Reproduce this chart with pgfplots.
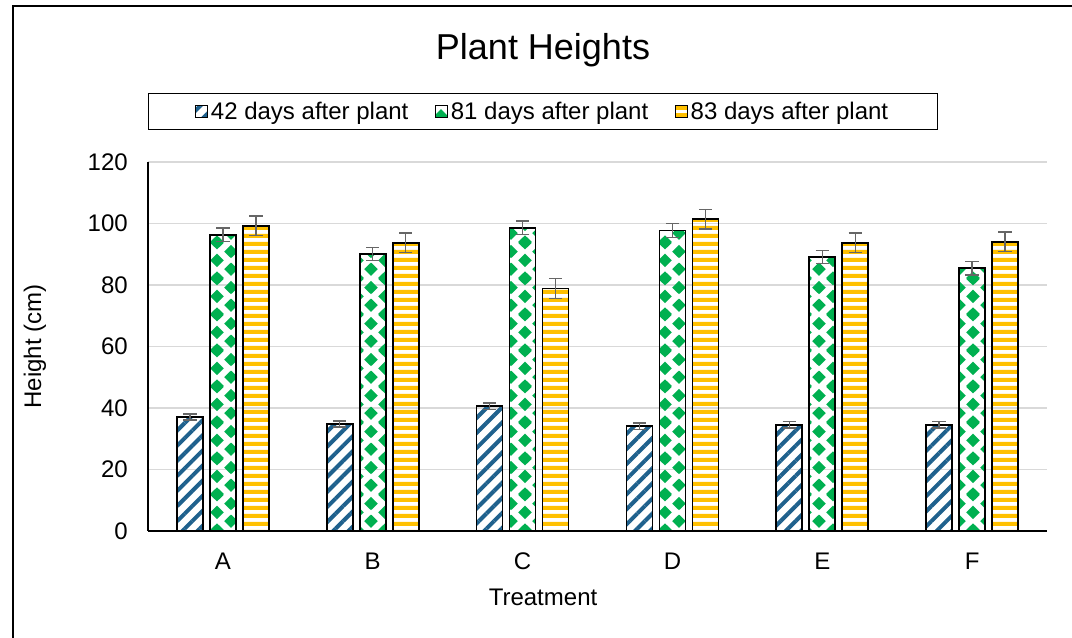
\documentclass[border=0pt]{standalone}
\usepackage{pgfplots}
\pgfplotsset{compat=1.18}
\usepackage{fontspec}
\setmainfont{Liberation Sans}
\usetikzlibrary{patterns.meta}

\definecolor{cblue}{HTML}{1F618D}
\definecolor{cgreen}{HTML}{00B050}
\definecolor{cyellow}{HTML}{FFC000}

\tikzdeclarepattern{
  name=diamonds,
  type=uncolored,
  bounding box={(0pt,0pt) and (840pt,27pt)},
  tile size={(840pt,27pt)},
  code={
    \foreach \i in {0,...,39}{
      \foreach \j in {-1,0,1,2}{
        \fill ({\i*21pt+5.25pt},{\j*13.5pt+1.7pt}) -- ++(5.1pt,5.1pt) -- ++(-5.1pt,5.1pt) -- ++(-5.1pt,-5.1pt) -- cycle;
        \fill ({\i*21pt+15.75pt},{\j*13.5pt+8.45pt}) -- ++(5.1pt,5.1pt) -- ++(-5.1pt,5.1pt) -- ++(-5.1pt,-5.1pt) -- cycle;
      }
    }
  }
}
\tikzdeclarepattern{
  name=hstripes,
  type=uncolored,
  bounding box={(0pt,0pt) and (840pt,6pt)},
  tile size={(840pt,6pt)},
  code={
    \fill (0pt,0pt) rectangle (840pt,3.4pt);
  }
}

\pgfplotstableread{
x  h42  e42  h81  e81  h83  e83
0  37.1 1.0  96.3 2.2  99.2 3.2
1  34.8 1.0  90.1 2.2  93.7 3.2
2  40.6 1.0  98.6 2.2  78.9 3.2
3  34.1 1.0  97.7 2.2  101.4 3.2
4  34.5 1.0  89.1 2.2  93.7 3.2
5  34.5 1.0  85.5 2.2  94.0 3.2
}\datatable

\begin{document}
\begin{tikzpicture}
\useasboundingbox (0pt,0pt) rectangle (804pt,478.5pt);
\draw[line width=1.5pt] (9.75pt,-15pt) -- (9.75pt,474pt) -- (817pt,474pt);
\begin{axis}[
  at={(111pt,80.25pt)}, anchor=south west,
  scale only axis, width=674.25pt, height=276.75pt,
  xmin=-0.5, xmax=5.5, ymin=0, ymax=120,
  xtick=data, xticklabels={A,B,C,D,E,F},
  ytick={0,20,...,120},
  axis x line*=bottom, axis y line*=left,
  axis line style={line width=1pt, black, -},
  major tick length=0pt,
  ymajorgrids, major grid style={line width=1pt, black!15},
  tick label style={font=\fontsize{18pt}{21pt}\selectfont},
  yticklabel style={inner sep=0pt, xshift=-15pt},
  xticklabel style={inner sep=0pt, yshift=-16pt},
  /pgf/number format/assume math mode=true,
  xlabel={Treatment},
  ylabel={Height (cm)},
  every axis x label/.style={at={(rel axis cs:0.4394,-0.1789)}, anchor=center, font=\fontsize{18pt}{21pt}\selectfont},
  every axis y label/.style={at={(rel axis cs:-0.1257,0.5)}, rotate=90, anchor=center, font=\fontsize{18pt}{21pt}\selectfont},
  title={Plant Heights},
  every axis title/.style={at={(rel axis cs:0.4394,1.3035)}, anchor=center, font=\fontsize{27pt}{32pt}\selectfont},
  ybar, bar width=19.5pt,
  legend columns=3,
  legend style={at={(rel axis cs:0.4394,1.1369)}, anchor=center, draw=black, line width=1pt,
    font=\fontsize{18pt}{21pt}\selectfont, inner xsep=35pt, inner ysep=4pt,
    /tikz/every even column/.append style={column sep=18pt}},
  legend image code/.code={\draw[#1, line width=0.8pt] (0pt,-4.5pt) rectangle (9pt,4.5pt);},
  error bars/error bar style={line width=1pt, black!60},
  error bars/error mark options={rotate=90, mark size=5pt, line width=1pt, black!60},
]
\addplot[draw=black, line width=1.2pt, pattern={Lines[angle=45,distance=8pt,line width=3pt]}, pattern color=cblue, bar shift=-24.75pt,
  error bars/.cd, y dir=both, y explicit]
  table[x=x, y=h42, y error=e42] {\datatable};
\addplot[draw=black, line width=1.2pt, pattern=diamonds, pattern color=cgreen, bar shift=0pt,
  error bars/.cd, y dir=both, y explicit]
  table[x=x, y=h81, y error=e81] {\datatable};
\addplot[draw=black, line width=1.2pt, pattern=hstripes, pattern color=cyellow, bar shift=24.75pt,
  error bars/.cd, y dir=both, y explicit]
  table[x=x, y=h83, y error=e83] {\datatable};
\legend{42 days after plant, 81 days after plant, 83 days after plant}
\end{axis}
\end{tikzpicture}
\end{document}
